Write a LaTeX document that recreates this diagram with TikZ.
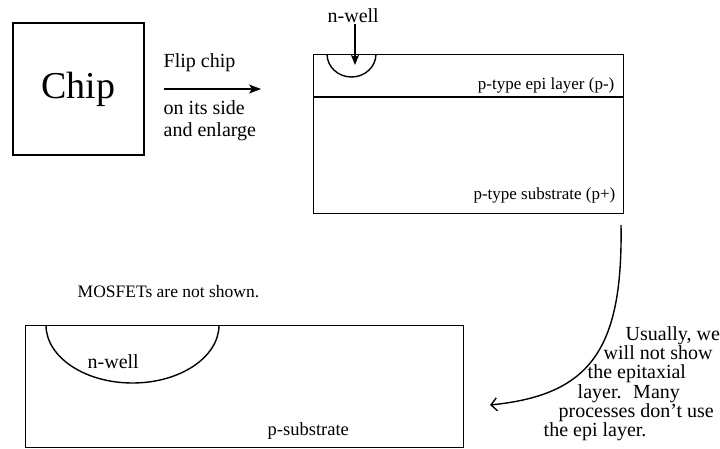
\documentclass[tikz,border=0pt]{standalone}
\usepackage{fontspec}
\setmainfont{Liberation Serif}
\usetikzlibrary{arrows.meta}

\begin{document}
\begin{tikzpicture}[x=1pt,y=-1pt,line width=1.4pt]
    \tikzstyle{box}=[rectangle,draw=black,inner sep=0pt]
    \tikzstyle{lbl}=[inner sep=0pt,anchor=base west,font=\fontsize{20}{20}\selectfont]
    \tikzstyle{small}=[lbl,font=\fontsize{17}{17}\selectfont]
    \tikzstyle{flip}=[-{Stealth[length=12pt,width=9pt,inset=3pt]}]
    \tikzstyle{curvearrow}=[-{Straight Barb[length=6pt,width=13pt]}]
    \useasboundingbox (0,0) rectangle (720,449);

    \node (chip)[box,minimum width=131,minimum height=132,font=\fontsize{38}{38}\selectfont] at (78.5,89) {Chip};
    \node (wafer)[box,minimum width=310,minimum height=159,anchor=north west] at (313,54) {};
    \node (substrate)[box,minimum width=438,minimum height=122,anchor=north west] at (25,325) {};

    \draw[flip] (chip.east) -- (wafer.west |- chip.east) [shorten <=19pt,shorten >=52pt];
    \node (fliptop)[lbl] at (163,68) {Flip chip};
    \node (flipside)[lbl] at (163,115) {on its side};
    \node (flipbig)[lbl] at (163,137) {and enlarge};

    \draw (wafer.west |- 0,97) -- (wafer.east |- 0,97);
    \draw (327,54) arc (180:0:24.5 and 23);
    \node (nwlabel)[lbl] at (327,23) {n-well};
    \coordinate (nwtip) at (355,65);
    \draw[-{Stealth[length=10pt,width=8pt,inset=2pt]}] (nwlabel.south -| nwtip) -- (nwtip);
    \node (epi)[small,anchor=base east] at (615,90) {p-type epi layer (p-)};
    \node (psub)[small,anchor=base east] at (616,200) {p-type substrate (p+)};

    \coordinate (bendtop) at (621,225);
    \coordinate (bendend) at (490,405);
    \draw[curvearrow] (bendtop) .. controls (623,350) and (590,395) .. (bendend);
    \node (note1)[lbl] at (625,340) {Usually, we};
    \node (note2)[lbl] at (603,359) {will not show};
    \node (note3)[lbl] at (587,378) {the epitaxial};
    \node (note4)[lbl] at (577,398) {layer.~ Many};
    \node (note5)[lbl] at (558,417) {processes don't use};
    \node (note6)[lbl] at (543,436) {the epi layer.};

    \node (mosfet)[lbl,font=\fontsize{17.5}{17.5}\selectfont] at (77,297) {MOSFETs are not shown.};
    \draw (46,325) arc (180:0:86.5 and 58);
    \node (nwell)[lbl] at (87,368) {n-well};
    \node (ptype)[lbl,font=\fontsize{18.5}{18.5}\selectfont] at (267,435) {p-substrate};
\end{tikzpicture}
\end{document}
